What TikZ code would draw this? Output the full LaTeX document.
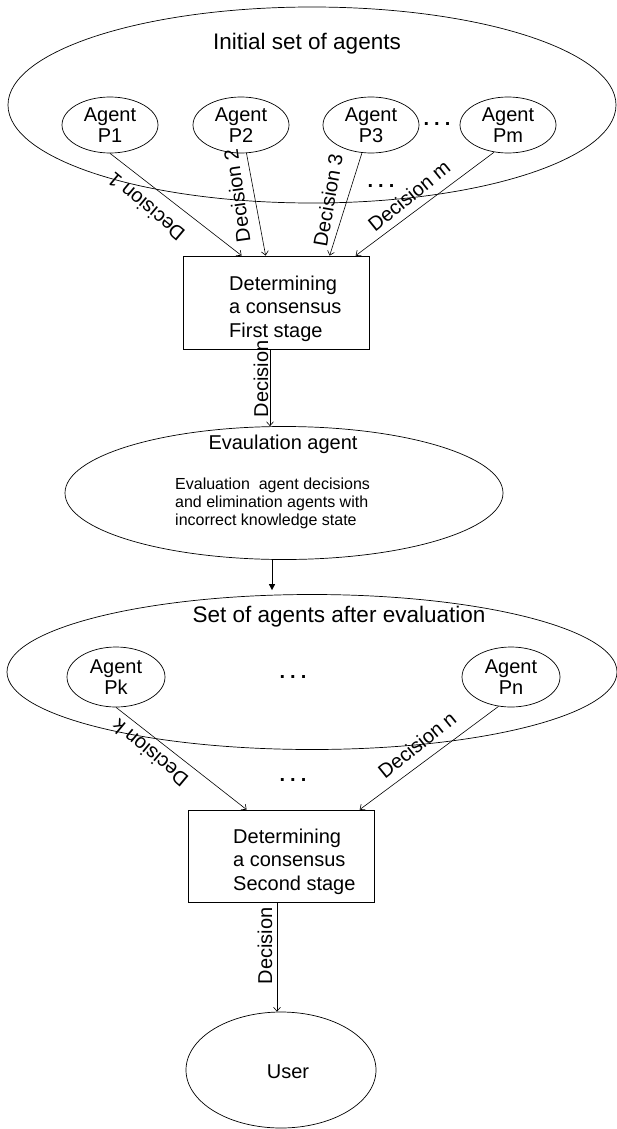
\documentclass[tikz,border=0pt]{standalone}
\usepackage{fontspec}
\setmainfont{Liberation Sans}
\usetikzlibrary{arrows.meta,shapes.geometric}
\begin{document}
\begin{tikzpicture}[x=1pt,y=-1pt,
  every node/.style={font=\fontsize{20}{23}\selectfont, inner sep=0pt},
  agent/.style={draw, ellipse, line width=0.7pt, minimum width=96pt, minimum height=56pt, align=center, font=\fontsize{20}{21.5}\selectfont},
  setell/.style={draw, ellipse, line width=0.7pt},
  stagebox/.style={draw, rectangle, line width=0.7pt, minimum width=186pt, minimum height=92pt},
  stagetext/.style={align=left, anchor=west, font=\fontsize{20}{23.5}\selectfont},
  title/.style={font=\fontsize{22.5}{26}\selectfont},
  declab/.style={font=\fontsize{20}{23}\selectfont},
  conn/.style={line width=0.6pt, -{Straight Barb[length=4pt,width=7pt]}},
  tri/.style={line width=0.6pt, -{Triangle[length=6pt,width=6pt]}},
  dotsl/.style={font=\bfseries\fontsize{20}{23}\selectfont}
]
\useasboundingbox (0,0) rectangle (617,1129);

% initial set
\node[setell, minimum width=608pt, minimum height=196pt] (init) at (312,105) {};
\node[title] (inittitle) at (307,44) {Initial set of agents};
\node[agent] (P1) at (110,125) {Agent\\P1};
\node[agent] (P2) at (241,125) {Agent\\P2};
\node[agent] (P3) at (371,125) {Agent\\P3};
\node[agent] (Pm) at (508,125) {Agent\\Pm};
\node[dotsl] (dots1) at (437,124) {.\hspace{5pt}.\hspace{5pt}.};
\node[dotsl] (dots2) at (381,186) {.\hspace{5pt}.\hspace{5pt}.};

% first stage
\node[stagebox, minimum height=93pt] (box1) at (276,302.5) {};
\node[stagetext] (box1t) at (229,308.5) {Determining\\a consensus\\First stage};

\draw[conn] (P1.south) -- ([xshift=59pt]box1.north west);
\draw[conn] (P2.-79) -- ([xshift=83pt]box1.north west);
\draw[conn] (P3.-108) -- ([xshift=147pt]box1.north west);
\draw[conn] (Pm.-117) -- ([xshift=173pt]box1.north west);

\node[declab, rotate=140] (d1) at (146,207) {Decision 1};
\node[declab, rotate=98] (d2) at (237,196) {Decision 2};
\node[declab, rotate=80] (d3) at (328,200) {Decision 3};
\node[declab, rotate=39] (dm) at (409,196) {Decision m};

% evaluation
\node[setell, minimum width=438pt, minimum height=133pt] (eval) at (284,493) {};
\node (evaltitle) at (283,444) {Evaulation agent};
\node[align=left, anchor=west, font=\fontsize{16}{18}\selectfont] (evaltext) at (175,503) {Evaluation\ \ agent decisions\\and elimination agents with\\incorrect knowledge state};

\draw[conn] ([xshift=-6pt]box1.south) -- ([xshift=-6pt]box1.south |- eval.north);
\node[declab, rotate=90] (d) at (261,379) {Decision};

% after evaluation
\node[setell, minimum width=610pt, minimum height=155pt] (after) at (312,672) {};
\node[title] (aftertitle) at (339,617) {Set of agents after evaluation};
\node[agent, minimum width=98pt, minimum height=60pt] (Pk) at (116,677) {Agent\\Pk};
\node[agent, minimum width=98pt, minimum height=60pt] (Pn) at (511,677) {Agent\\Pn};
\node[dotsl] (dots3) at (293,677) {.\hspace{5pt}.\hspace{5pt}.};
\node[dotsl] (dots4) at (293,780) {.\hspace{5pt}.\hspace{5pt}.};

\draw[tri, shorten >=4pt] ([xshift=-12pt]eval.south) -- ([xshift=-12pt]eval.south |- after.north);

% second stage
\node[stagebox] (box2) at (281,856) {};
\node[stagetext] (box2t) at (233,861.5) {Determining\\a consensus\\Second stage};

\draw[conn] (Pk.south) -- ([xshift=59pt]box2.north west);
\draw[conn] (Pn.-113) -- ([xshift=172pt]box2.north west);
\node[declab, rotate=140] (dk) at (150,753) {Decision k};
\node[declab, rotate=39] (dn) at (417,745) {Decision n};

% user
\node[setell, minimum width=190pt, minimum height=116pt] (user) at (281,1070) {};
\node (usert) at (288,1072) {User};
\draw[conn] ([xshift=-4pt]box2.south) -- ([xshift=-4pt]box2.south |- user.north);
\node[declab, rotate=90] (du) at (265,946) {Decision};
\end{tikzpicture}
\end{document}
